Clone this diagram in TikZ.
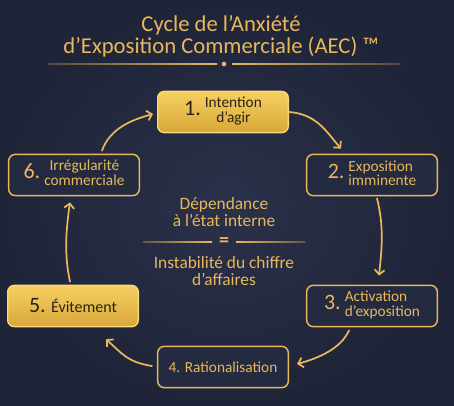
\documentclass[tikz,border=0pt]{standalone}
\usepackage{fontspec}
\setmainfont{Carlito}
\usetikzlibrary{arrows.meta}

\definecolor{bginner}{RGB}{42,49,74}
\definecolor{bgouter}{RGB}{31,36,56}
\definecolor{boxnavy}{RGB}{36,42,64}
\definecolor{gold}{RGB}{232,184,90}
\definecolor{goldlight}{RGB}{246,208,98}
\definecolor{golddark}{RGB}{216,166,56}
\definecolor{goldedge}{RGB}{250,218,120}
\definecolor{ink}{RGB}{40,34,24}

\newcommand{\numfont}{\fontsize{16.5}{16.5}\selectfont}
\newcommand{\labelfont}{\fontsize{11.5}{10}\selectfont}
\newcommand{\boxtext}[3][c]{{\numfont #2}\hspace{3pt}{\labelfont\begin{tabular}{@{}#1@{}}#3\end{tabular}}}

\tikzset{
  darkbox/.style={draw=gold, line width=1.1pt, fill=boxnavy, rounded corners=5pt,
    minimum width=98pt, minimum height=31pt, inner sep=0pt, text=gold},
  goldbox/.style={draw=goldedge, line width=1pt, top color=goldlight, bottom color=golddark,
    rounded corners=5pt, minimum width=98pt, minimum height=31pt, inner sep=0pt, text=ink},
  cycarrow/.style={draw=gold, line width=1.3pt, line cap=round,
    -{Straight Barb[length=3.5pt,width=7.5pt]}},
}

\begin{document}
\begin{tikzpicture}[x=0.75pt,y=0.75pt,yscale=-1,xscale=1]
\useasboundingbox (0,0) rectangle (454,406);

%Shape: Background
\shade [inner color=bginner, outer color=bgouter] (0,0) rectangle (454,406);

% Text Node
\node [text=gold, align=center, font=\fontsize{17}{16.5}\selectfont] (title) at (221,36.5)
  {Cycle de l’Anxiété\\d’Exposition Commerciale (AEC) ™};

%Straight Lines: title rule
\node [circle, fill=gold, inner sep=0pt, minimum size=3.5pt] (ruledot) at (224,64) {};
\shade [left color=gold!25!bgouter, right color=gold] (48,63.3) rectangle (217,64.7);
\shade [left color=gold, right color=gold!25!bgouter] (232,63.3) rectangle (400,64.7);

%Shape: Rounded Rect
\node [goldbox] (intent) at (223,112) {\boxtext{1.}{Intention\\d’agir}};
%Shape: Rounded Rect
\node [darkbox] (expo) at (372,175) {\boxtext[l]{2.}{Exposition\\imminente}};
%Shape: Rounded Rect
\node [darkbox] (activ) at (372,306) {\boxtext[l]{3.}{Activation\\d’exposition}};
%Shape: Rounded Rect
\node [darkbox] (ratio) at (223,367) {\labelfont 4. Rationalisation};
%Shape: Rounded Rect
\node [goldbox] (evit) at (73,306) {{\numfont 5.}\hspace{4pt}{\fontsize{12}{12}\selectfont Évitement}};
%Shape: Rounded Rect
\node [darkbox] (irreg) at (74,175) {\boxtext{6.}{Irrégularité\\commerciale}};

% Text Node
\node [text=gold, align=center, font=\fontsize{13}{12.5}\selectfont] (depend) at (224,212)
  {Dépendance\\à l’état interne};
% Text Node
\node [text=gold, font=\fontsize{15}{15}\selectfont\bfseries, inner sep=1pt] (equal) at (224,242) {=};
% Text Node
\node [text=gold, align=center, font=\fontsize{13}{12.5}\selectfont] (instab) at (224,271)
  {Instabilité du chiffre\\d’affaires};

%Straight Lines: centre rule
\shade [left color=gold!35!bgouter, right color=gold] (143,241.2) rectangle (212,242.8);
\shade [left color=gold, right color=gold!35!bgouter] (236,241.2) rectangle (305,242.8);

%Curve Lines
\draw [cycarrow] (intent.east) .. controls +(28,2) and +(-14,-16) .. ([shift={(-31,-5)}]expo.north);
%Curve Lines
\draw [cycarrow] ([shift={(5,2)}]expo.south) .. controls +(7,28) and +(3,-28) .. ([shift={(7,-9)}]activ.north);
%Curve Lines
\draw [cycarrow] ([shift={(-23,3)}]activ.south) .. controls +(-8,18) and +(22,-6) .. ([shift={(8,-3)}]ratio.east);
%Curve Lines
\draw [cycarrow] ([shift={(-5,-1)}]ratio.west) .. controls +(-25,-4) and +(16,14) .. ([shift={(33,12)}]evit.south);
%Curve Lines
\draw [cycarrow] ([shift={(-3,-3)}]evit.north) .. controls +(-6,-28) and +(-4,28) .. ([shift={(-4,6)}]irreg.south);
%Curve Lines
\draw [cycarrow] ([shift={(28,-3)}]irreg.north) .. controls +(8,-22) and +(-22,6) .. ([shift={(-4,2)}]intent.west);

\end{tikzpicture}
\end{document}
